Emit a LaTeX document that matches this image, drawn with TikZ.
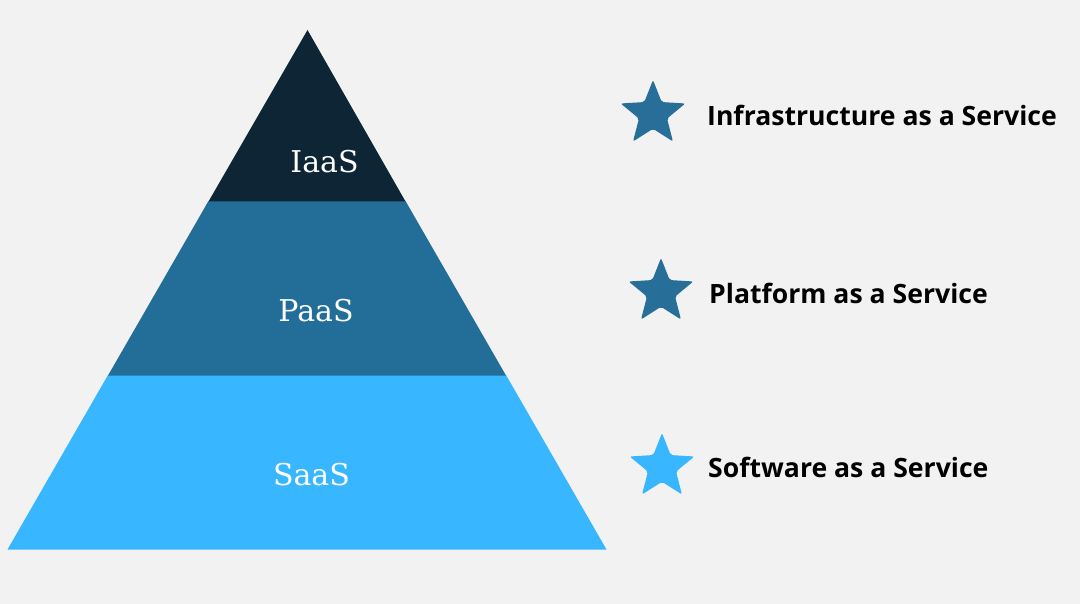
\documentclass[tikz,border=0pt]{standalone}
\usepackage{fontspec}
\setmainfont{Open Sans}
\newfontfamily\slabfont{DejaVu Serif}
\usetikzlibrary{shapes.geometric}
\definecolor{bgc}{HTML}{F2F2F2}
\definecolor{iaasc}{HTML}{0D2535}
\definecolor{paasc}{HTML}{226E99}
\definecolor{saasc}{HTML}{38B6FF}
\definecolor{stardark}{HTML}{276F99}
\tikzset{
  layerlabel/.style={text=white, font=\slabfont\fontsize{30}{32}\selectfont, inner sep=0pt},
  sidelabel/.style={anchor=west, text=black, font=\bfseries\fontsize{26.6}{30}\selectfont, inner sep=0pt},
  starmark/.style={star, star points=5, star point ratio=2.3, minimum size=68pt, inner sep=0pt, rounded corners=2pt, draw=none},
}
\begin{document}
\begin{tikzpicture}[x=1pt,y=-1pt]
\fill[bgc] (0,0) rectangle (1080,604);
\useasboundingbox (0,0) rectangle (1080,604);
% layers
\fill[saasc] (108,375) -- (506,375) -- (606.5,549.5) -- (7.5,549.5) -- cycle;
\fill[paasc] (208.5,201) -- (405.5,201) -- (506,375.5) -- (108,375.5) -- cycle;
\fill[iaasc] (307.5,30) -- (405.5,201.5) -- (208.5,201.5) -- cycle;
\node[layerlabel] (iaas) at (324.5,162) {IaaS};
\node[layerlabel] (paas) at (316,311) {PaaS};
\node[layerlabel] (saas) at (311.5,475) {SaaS};
% stars
\node[starmark, fill=stardark] (s1) at (653,114) {};
\node[starmark, fill=stardark] (s2) at (661,292) {};
\node[starmark, fill=saasc] (s3) at (662,467) {};
\node[sidelabel] (l1) at (707,115) {Infrastructure as a Service};
\node[sidelabel] (l2) at (709,293) {Platform as a Service};
\node[sidelabel] (l3) at (708,467) {Software as a Service};
\end{tikzpicture}
\end{document}
